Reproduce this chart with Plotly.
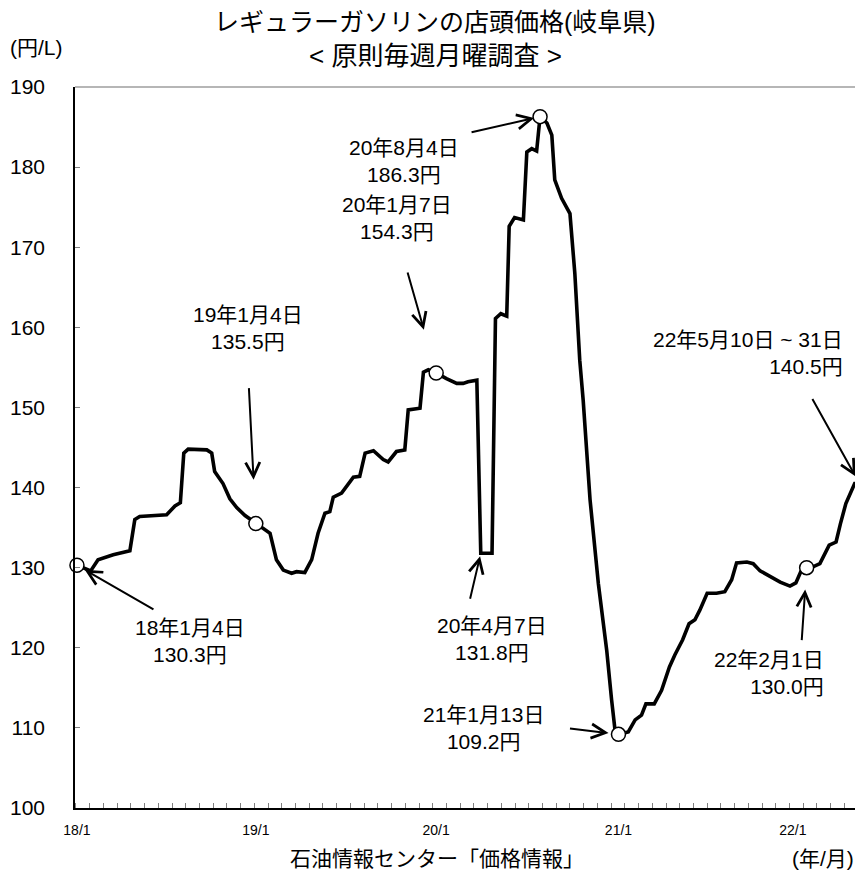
import plotly.graph_objects as go

# ---- data ----
dates = [
    "2018-01-04", "2018-02-01", "2018-02-16", "2018-03-19", "2018-04-22", "2018-05-02", "2018-05-12",
    "2018-07-06", "2018-07-23", "2018-08-03", "2018-08-10", "2018-08-19", "2018-09-26", "2018-10-06",
    "2018-10-12", "2018-10-29", "2018-11-12", "2018-11-26", "2018-12-13",
    "2019-01-04", "2019-02-02", "2019-02-15", "2019-03-01", "2019-03-18", "2019-03-28", "2019-04-14",
    "2019-04-28", "2019-05-11", "2019-05-25", "2019-06-04", "2019-06-11", "2019-06-28", "2019-07-22",
    "2019-08-04", "2019-08-15", "2019-09-01", "2019-09-21", "2019-10-01", "2019-10-18", "2019-11-04",
    "2019-11-11", "2019-12-05", "2019-12-12", "2019-12-22",
    "2020-01-07", "2020-01-28", "2020-02-18", "2020-03-02", "2020-03-12", "2020-03-30", "2020-04-07",
    "2020-04-30", "2020-05-07", "2020-05-18", "2020-05-30", "2020-06-04", "2020-06-15", "2020-07-03",
    "2020-07-10", "2020-07-20", "2020-07-30", "2020-08-06", "2020-08-20", "2020-08-30", "2020-09-05",
    "2020-09-19", "2020-10-06", "2020-10-16", "2020-10-26", "2020-11-02", "2020-11-16", "2020-12-03",
    "2020-12-20", "2020-12-30", "2021-01-06", "2021-01-13",
    "2021-02-02", "2021-02-16", "2021-03-01", "2021-03-10", "2021-03-27", "2021-04-11", "2021-04-27",
    "2021-05-08", "2021-05-24", "2021-06-06", "2021-06-18", "2021-06-28", "2021-07-13", "2021-08-01",
    "2021-08-18", "2021-09-01", "2021-09-11", "2021-10-02", "2021-10-15", "2021-10-29", "2021-11-18",
    "2021-12-09", "2021-12-29", "2022-01-10", "2022-01-20", "2022-02-01", "2022-02-14", "2022-02-28",
    "2022-03-19", "2022-04-02", "2022-04-11", "2022-04-22", "2022-05-10", "2022-05-31",
]
prices = [
    130.3, 129.6, 131.0, 131.6, 132.1, 136.0, 136.4, 136.6, 137.7, 138.1, 144.3, 144.8, 144.7, 144.3,
    142.0, 140.5, 138.6, 137.5, 136.5,
    135.5, 134.3, 131.0, 129.7, 129.3, 129.5, 129.4, 131.0, 134.3, 136.8, 137.0, 138.8, 139.3, 141.3,
    141.4, 144.3, 144.6, 143.5, 143.2, 144.5, 144.7, 149.7, 149.9, 154.4, 154.7,
    154.3, 153.6, 153.0, 153.0, 153.2, 153.4, 131.8, 131.8, 161.1, 161.7, 161.4, 172.6, 173.7, 173.4,
    181.9, 182.3, 182.0, 186.3, 185.5, 184.0, 178.4, 176.1, 174.2, 166.7, 155.9, 150.9, 138.5, 128.0,
    119.7, 113.5, 109.7, 109.2,
    109.5, 111.0, 111.6, 113.0, 113.0, 114.7, 117.6, 119.1, 121.0, 123.0, 123.5, 124.7, 126.8, 126.8,
    127.0, 128.5, 130.6, 130.7, 130.5, 129.6, 128.9, 128.2, 127.7, 128.1, 129.5, 130.0, 130.1, 130.5,
    132.8, 133.2, 135.5, 138.0, 140.5, 140.5,
]
assert len(dates) == len(prices)

marker_dates = ["2018-01-04", "2019-01-04", "2020-01-07", "2020-08-06", "2021-01-13", "2022-02-01"]
marker_values = [130.3, 135.5, 154.3, 186.3, 109.2, 130.0]

tick_dates = ["2018-01-04", "2019-01-04", "2020-01-07", "2021-01-13", "2022-01-04"]
tick_labels = ["18/1", "19/1", "20/1", "21/1", "22/1"]

y_ticks = [100, 110, 120, 130, 140, 150, 160, 170, 180, 190]

# callout labels: text, arrow-head date, arrow-head value
callout_texts = [
    "18年1月4日<br>130.3円", "19年1月4日<br>135.5円", "20年1月7日<br>154.3円", "20年8月4日<br>186.3円",
    "20年4月7日<br>131.8円", "21年1月13日<br>109.2円", "22年2月1日<br>130.0円", "22年5月10日 ~ 31日<br>140.5円",
]
callout_dates = ["2018-01-04", "2019-01-04", "2020-01-07", "2020-08-06",
                 "2020-04-07", "2021-01-13", "2022-02-01", "2022-05-20"]
callout_values = [130.3, 135.5, 154.3, 186.3, 131.8, 109.2, 130.0, 140.5]

# ---- styling / placement (pixels) ----
arrow_ax = [78, -7, -29, -70, -11, -50, -5, -48]
arrow_ay = [45, -137, -102, 16, 47, -6, 74, -86]
arrow_standoff = [9, 44, 45, 6, 3, 10, 22, 8]
text_xshift = [113, -8, -39, -136, 11, -135, 19, -15]
text_yshift = [-76, 196, 155, -44, -86, 6, -105, 131]
text_xanchor = ["center", "center", "center", "center", "center", "center", "right", "right"]
text_align = ["center", "center", "center", "center", "center", "center", "right", "right"]

FONT = "Liberation Sans, Arial, Noto Sans CJK JP"

# page geometry: the browser body has an 8px margin, so the figure is
# sized to the visible area and placed from screen pixels accordingly
BODY = 8
SW, SH = 863, 878
W, H = SW - BODY, SH - BODY
PLOT_L, PLOT_T, PLOT_R, PLOT_B = 75, 87, 863, 808   # screen pixels of plot area
L = PLOT_L - BODY
T = PLOT_T - BODY
R = 0
pw = PLOT_R - PLOT_L
ph = PLOT_B - PLOT_T
B = H - T - ph

fig = go.Figure()
fig.add_trace(go.Scatter(
    x=dates, y=prices, mode="lines",
    line=dict(color="black", width=3.6),
    hoverinfo="skip", showlegend=False,
))
fig.add_trace(go.Scatter(
    x=marker_dates, y=marker_values, mode="markers",
    marker=dict(size=14, color="white", line=dict(color="black", width=1.5)),
    cliponaxis=False, showlegend=False, hoverinfo="skip",
))

annotations = []
for i in range(len(callout_texts)):
    annotations.append(dict(
        x=callout_dates[i], y=callout_values[i], xref="x", yref="y",
        text="", showarrow=True, ax=arrow_ax[i], ay=arrow_ay[i],
        arrowhead=5, arrowsize=1.4, arrowwidth=2, arrowcolor="black",
        standoff=arrow_standoff[i],
    ))
    annotations.append(dict(
        x=callout_dates[i], y=callout_values[i], xref="x", yref="y",
        text=callout_texts[i], showarrow=False,
        xshift=text_xshift[i], yshift=text_yshift[i],
        xanchor=text_xanchor[i], yanchor="middle", align=text_align[i],
        font=dict(family=FONT, size=21, color="black"),
    ))


def page_text(text, sx, sy, size):
    return dict(text=text, x=(sx - PLOT_L) / pw, y=(PLOT_B - sy) / ph,
                xref="paper", yref="paper", xanchor="center", yanchor="middle",
                showarrow=False, font=dict(family=FONT, size=size, color="black"))


annotations += [
    page_text("レギュラーガソリンの店頭価格(岐阜県)", 435, 22, 25),
    page_text("<&nbsp;原則毎週月曜調査&nbsp;>", 435, 56, 26),
    page_text("(円/L)", 36, 47, 21),
    page_text("石油情報センター「価格情報」", 437, 858, 21),
    page_text("(年/月)", 823, 858, 21),
]

fig.update_layout(
    width=W, height=H,
    margin=dict(l=L, r=R, t=T, b=B, pad=0),
    paper_bgcolor="white", plot_bgcolor="white",
    annotations=annotations,
    shapes=[dict(type="line", xref="paper", yref="paper", x0=0, x1=1, y0=1, y1=1,
                 line=dict(color="#6e6e6e", width=1.2))],
    xaxis=dict(
        type="date", range=["2017-12-31", "2022-05-27"],
        showgrid=False, zeroline=False,
        showline=True, linecolor="black", linewidth=2,
        tickmode="array", tickvals=tick_dates, ticktext=tick_labels,
        ticks="", ticklabelstandoff=8,
        tickfont=dict(family=FONT, size=14, color="black"),
        minor=dict(ticks="inside", ticklen=5, tickcolor="#808080", tickwidth=1,
                   tick0="2018-01-30", dtick=28 * 86400000, showgrid=False),
    ),
    yaxis=dict(
        range=[100, 190], tickmode="array", tickvals=y_ticks,
        showgrid=False, zeroline=False,
        showline=True, linecolor="black", linewidth=1.5,
        ticks="inside", ticklen=5, tickcolor="#808080",
        ticklabelstandoff=24,
        tickfont=dict(family=FONT, size=21, color="black"),
    ),
)

fig.write_html("out.html")
